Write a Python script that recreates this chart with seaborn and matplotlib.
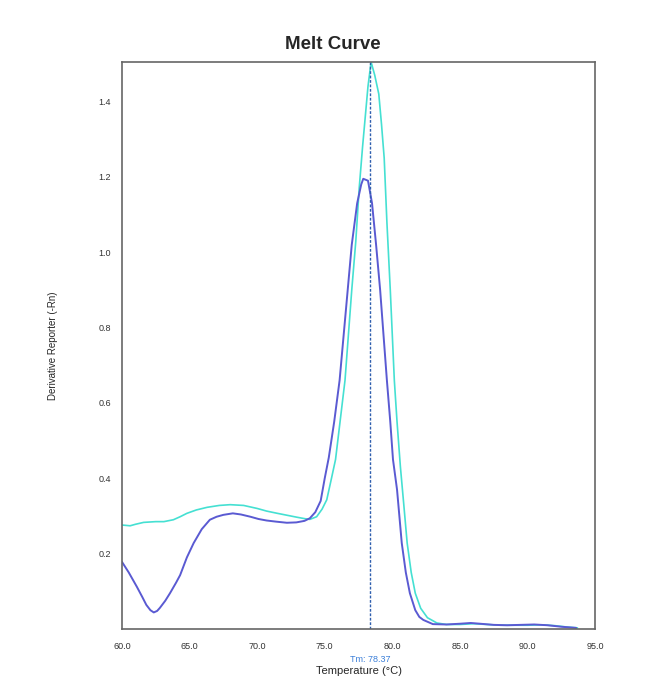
import matplotlib
matplotlib.use("Agg")
import matplotlib.pyplot as plt
import pandas as pd
import seaborn as sns

# well 1 (blue) - derivative reporter
blue_temp = [60.0, 60.5, 61.1, 61.5, 61.8, 62.1, 62.35, 62.6, 62.8, 63.2, 63.55, 64.0, 64.3, 64.8,
             65.3, 65.9, 66.5, 67.0, 67.5, 68.2, 68.8, 69.5, 70.1, 70.7, 71.4, 72.2, 72.9, 73.5,
             73.9, 74.3, 74.7, 75.0, 75.3, 75.7, 76.1, 76.4, 76.7, 77.0, 77.4, 77.7, 77.85, 78.2,
             78.5, 78.8, 79.1, 79.35, 79.6, 79.85, 80.05, 80.35, 80.7, 81.0, 81.3, 81.7, 82.0,
             82.3, 83.0, 84.0, 85.0, 85.8, 86.5, 87.5, 88.5, 89.5, 90.5, 91.5, 92.5, 93.6]
blue_rn = [0.178, 0.150, 0.112, 0.085, 0.064, 0.050, 0.044, 0.048, 0.056, 0.075, 0.095, 0.123,
           0.143, 0.190, 0.228, 0.265, 0.290, 0.298, 0.303, 0.307, 0.304, 0.298, 0.292, 0.288,
           0.285, 0.282, 0.283, 0.287, 0.294, 0.310, 0.340, 0.400, 0.455, 0.550, 0.660, 0.780,
           0.900, 1.020, 1.130, 1.180, 1.195, 1.190, 1.130, 1.020, 0.900, 0.780, 0.660, 0.550,
           0.450, 0.370, 0.228, 0.150, 0.095, 0.050, 0.032, 0.024, 0.013, 0.012, 0.014, 0.016,
           0.014, 0.011, 0.010, 0.011, 0.012, 0.010, 0.006, 0.003]

# well 2 (turquoise)
cyan_temp = [60.0, 60.6, 61.0, 61.6, 62.5, 63.1, 63.8, 64.3, 64.8, 65.5, 66.3, 67.2, 68.0, 69.0,
             70.0, 70.7, 71.5, 72.2, 72.9, 73.5, 73.9, 74.4, 74.8, 75.15, 75.5, 75.8, 76.1, 76.5,
             76.75, 77.0, 77.3, 77.55, 77.8, 78.0, 78.2, 78.43, 78.7, 79.0, 79.2, 79.4, 79.6,
             79.85, 80.15, 80.35, 80.6, 80.85, 81.1, 81.4, 81.7, 82.1, 82.6, 83.3, 84.0, 85.0,
             86.0, 87.0, 88.0, 89.0, 90.0, 91.0, 92.0, 93.0, 93.7]
cyan_rn = [0.276, 0.274, 0.278, 0.283, 0.285, 0.285, 0.290, 0.298, 0.307, 0.316, 0.323, 0.328,
           0.330, 0.328, 0.320, 0.313, 0.307, 0.302, 0.297, 0.293, 0.291, 0.298, 0.318, 0.343,
           0.400, 0.450, 0.540, 0.660, 0.780, 0.900, 1.030, 1.170, 1.280, 1.360, 1.440, 1.505,
           1.470, 1.420, 1.340, 1.250, 1.080, 0.900, 0.660, 0.550, 0.430, 0.330, 0.228, 0.150,
           0.095, 0.055, 0.030, 0.016, 0.012, 0.012, 0.014, 0.012, 0.010, 0.010, 0.010, 0.011,
           0.009, 0.005, 0.003]

tm = 78.37
x_ticks = [60.0, 65.0, 70.0, 75.0, 80.0, 85.0, 90.0, 95.0]
y_ticks = [0.2, 0.4, 0.6, 0.8, 1.0, 1.2, 1.4]

df = pd.concat([
    pd.DataFrame({"temp": cyan_temp, "rn": cyan_rn, "well": "B"}),
    pd.DataFrame({"temp": blue_temp, "rn": blue_rn, "well": "A"}),
])

sns.set_style("white")
plt.rcParams["font.family"] = ["Liberation Sans", "DejaVu Sans"]

fig = plt.figure(figsize=(6.7, 6.82), dpi=100)
ax = fig.add_axes([0.1821, 0.0777, 0.706, 0.8314])

sns.lineplot(data=df, x="temp", y="rn", hue="well", estimator=None, sort=False,
             palette={"A": "#5a5ad2", "B": "#45e0d2"}, linewidth=1.4, legend=False, ax=ax)
for line in ax.get_lines():
    if line.get_color() == "#45e0d2":
        line.set_linewidth(1.2)

ax.axvline(tm, color="#2f5fae", linewidth=1.0, linestyle=(0, (2, 1.2)))

ax.set_xlim(60, 95)
ax.set_ylim(0, 1.505)
ax.set_xticks(x_ticks)
ax.set_xticklabels([f"{t:.1f}" for t in x_ticks])
ax.set_yticks(y_ticks)
ax.set_yticklabels([f"{t:.1f}" for t in y_ticks])
ax.tick_params(axis="both", length=0, labelsize=6.5, labelcolor="#333333")
ax.tick_params(axis="x", pad=9)
ax.tick_params(axis="y", pad=8)

for s in ax.spines.values():
    s.set_color("#666666")
    s.set_linewidth(1.2)

ax.set_xlabel("Temperature (°C)", fontsize=8, labelpad=11.5)
ax.set_ylabel("Derivative Reporter (-Rn)", fontsize=7, labelpad=29)
ax.text(tm, -0.082, f"Tm: {tm:.2f}", transform=ax.transData, ha="center", va="center",
        fontsize=6.5, color="#3b7fd8", clip_on=False)

fig.suptitle("Melt Curve", x=0.497, y=0.947, fontsize=13.5, fontweight="bold")

plt.savefig("out.png", dpi=100)
plt.close()
